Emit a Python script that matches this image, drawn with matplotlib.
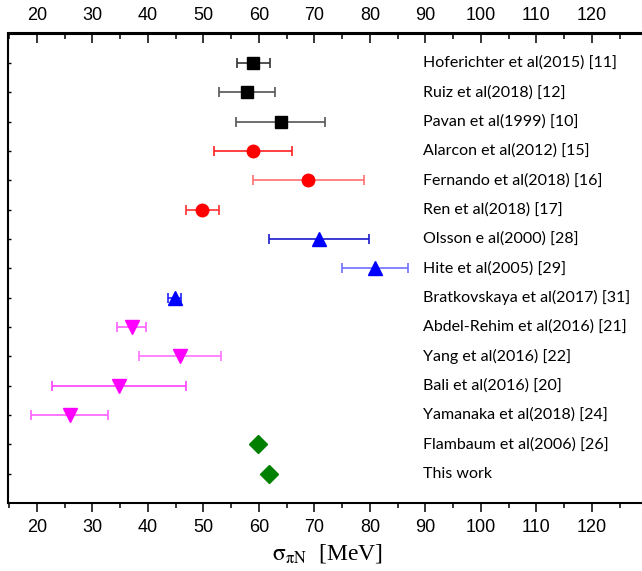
import matplotlib
import numpy as np

matplotlib.use("Agg")
import matplotlib.pyplot as plt

# values (sigma_piN in MeV)
labels = [
    "Hoferichter et al(2015) [11]",
    "Ruiz et al(2018) [12]",
    "Pavan et al(1999) [10]",
    "Alarcon et al(2012) [15]",
    "Fernando et al(2018) [16]",
    "Ren et al(2018) [17]",
    "Olsson e al(2000) [28]",
    "Hite et al(2005) [29]",
    "Bratkovskaya et al(2017) [31]",
    "Abdel-Rehim et al(2016) [21]",
    "Yang et al(2016) [22]",
    "Bali et al(2016) [20]",
    "Yamanaka et al(2018) [24]",
    "Flambaum et al(2006) [26]",
    "This work",
]
sigma = [59.0, 57.9, 63.9, 58.9, 68.9, 49.8, 70.9, 80.9, 44.8, 37.1, 45.8, 34.8, 25.9, 59.9, 61.9]
err = [3.0, 5.0, 8.0, 7.0, 10.0, 3.0, 9.0, 6.0, 1.2, 2.6, 7.4, 12.0, 7.0, 0.0, 0.0]
markers = ["s", "s", "s", "o", "o", "o", "^", "^", "^", "v", "v", "v", "v", "D", "D"]
msizes = [8, 8, 8, 9, 9, 9, 10, 10, 10, 10, 10, 10, 10, 9.5, 9.5]
face = ["black"] * 3 + ["red"] * 3 + ["blue"] * 3 + ["#ff00ff"] * 4 + ["#008000"] * 2
bar_col = ["#333333", "#555555", "#555555",
           "#ff2020", "#ff7070", "#ff3030",
           "#1a1acc", "#7070ff", "#2020ff",
           "#ff60ff", "#ff70ff", "#ff40ff", "#ff60ff",
           "#008000", "#008000"]

plt.rcParams["mathtext.fontset"] = "stix"

fig = plt.figure(figsize=(6.42, 5.71), dpi=100)
x0, x1 = 14.8, 130.0
ax = fig.add_axes([8 / 642, 68 / 571, (x1 - x0) * 5.55 / 642, 469.5 / 571])

rows = np.arange(1, len(labels) + 1)
for y, v, e, m, ms, fc, bc in zip(rows, sigma, err, markers, msizes, face, bar_col):
    if e > 0:
        ax.errorbar(v, y, xerr=e, fmt="none", ecolor=bc, elinewidth=1.2,
                    capsize=3.6, capthick=1.2, zorder=2)
    ax.plot(v, y, marker=m, ms=ms, color=fc, mec=fc, ls="none", zorder=3)

for y, lab in zip(rows, labels):
    ax.text(89.5, y, lab, fontsize=11.5, family="Lato", va="center", ha="left")

ax.set_xlim(x0, x1)
ax.set_ylim(16, 0)
ax.set_yticks(rows)
ax.set_yticklabels([])
ax.tick_params(axis="y", direction="in", length=2, width=1.0)

major = np.arange(20, 130, 10)
minor = np.arange(15, 131, 5)
ax.set_xticks(major)
ax.set_xticks(minor, minor=True)
ax.tick_params(axis="x", which="major", direction="out", length=6.5, width=1.1,
               labelsize=13, pad=5)
ax.tick_params(axis="x", which="minor", direction="out", length=3.5, width=1.1)
for lbl in ax.get_xticklabels():
    lbl.set_family("Liberation Sans")

top = ax.secondary_xaxis("top")
top.set_xticks(major)
top.set_xticks(minor, minor=True)
top.tick_params(axis="x", which="major", direction="in", length=7, width=1.1,
                labelsize=13, pad=7)
top.tick_params(axis="x", which="minor", direction="in", length=4, width=1.1)
for lbl in top.get_xticklabels():
    lbl.set_family("Liberation Sans")
top.spines["top"].set_linewidth(1.5)

for s in ax.spines.values():
    s.set_linewidth(1.5)

ax.set_xlabel(r"$\mathrm{\sigma_{\pi N}}$  [MeV]", fontsize=17,
              family="Liberation Serif", labelpad=4)

fig.savefig("out.png", dpi=100)
